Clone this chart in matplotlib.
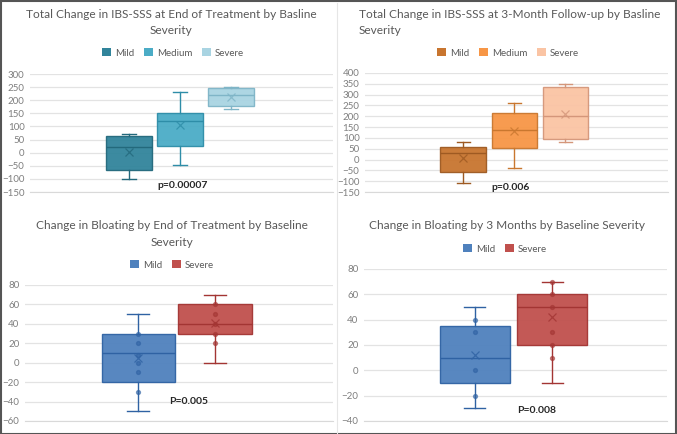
import matplotlib
matplotlib.use("Agg")
import matplotlib.pyplot as plt
from matplotlib.patches import Patch, Rectangle

plt.rcParams['font.family'] = ['Lato', 'DejaVu Sans']

W, H = 677, 434

# ---- data ----
# IBS-SSS, end of treatment
eot_names = ['Mild', 'Medium', 'Severe']
eot_lo = [-100, -48, 165]
eot_q1 = [-68, 25, 178]
eot_med = [22, 120, 220]
eot_q3 = [64, 152, 245]
eot_hi = [72, 230, 250]
eot_mean = [4, 105, 212]

# IBS-SSS, 3-month follow-up
fu_names = ['Mild', 'Medium', 'Severe']
fu_lo = [-110, -40, 80]
fu_q1 = [-58, 55, 95]
fu_med = [30, 135, 200]
fu_q3 = [58, 215, 335]
fu_hi = [80, 260, 350]
fu_mean = [5, 130, 210]

# bloating, end of treatment
bl_names = ['Mild', 'Severe']
bl_lo = [-50, 0]
bl_q1 = [-20, 30]
bl_med = [10, 40]
bl_q3 = [30, 60]
bl_hi = [50, 70]
bl_mean = [5, 41]
bl_pts = [[30, 20, 8, 0, -10, -30], [60, 50, 40, 30, 20]]

# bloating, 3 months
b3_names = ['Mild', 'Severe']
b3_lo = [-30, -10]
b3_q1 = [-10, 20]
b3_med = [10, 50]
b3_q3 = [35, 60]
b3_hi = [50, 70]
b3_mean = [12, 42]
b3_pts = [[40, 30, 0, -20], [70, 60, 50, 30, 20, 10]]

teal = ['#31849B', '#4BACC6', '#A9D4E2']
teal_dk = ['#23697C', '#2E8DA8', '#7FB5C7']
orange = ['#C8752F', '#F79646', '#FAC4A4']
orange_dk = ['#9E5A22', '#C9772F', '#D4967A']
bluered = ['#4F81BD', '#C0504D']
bluered_dk = ['#2F62A3', '#A33533']

grey_txt = '#595959'
tick_txt = '#7F7F7F'
TS = 8.6

fig = plt.figure(figsize=(W / 100, H / 100), dpi=100)


def px_axes(x0, x1, ytop, ybot):
    return fig.add_axes([x0 / W, 1 - ybot / H, (x1 - x0) / W, (ybot - ytop) / H])


def draw_panel(ax, names, lo, q1, med, q3, hi, mean, cols, dks, width, xl, ylim, step, pts=None):
    n = len(names)
    pos = [i - (n - 1) / 2 for i in range(n)]
    for i in range(n):
        st = [dict(whislo=lo[i], q1=q1[i], med=med[i], q3=q3[i], whishi=hi[i],
                   mean=mean[i], fliers=[])]
        ax.bxp(st, positions=[pos[i]], widths=width, patch_artist=True,
               showmeans=True, showcaps=True,
               boxprops=dict(facecolor=cols[i], edgecolor=dks[i], linewidth=1.0, alpha=0.95),
               medianprops=dict(color=dks[i], linewidth=1.0),
               whiskerprops=dict(color=dks[i], linewidth=1.0),
               capprops=dict(color=dks[i], linewidth=1.0),
               capwidths=width * 0.3,
               meanprops=dict(marker='x', markeredgecolor=dks[i], markersize=6,
                              markeredgewidth=0.9, alpha=0.8), zorder=3)
        if pts is not None:
            ax.plot([pos[i]] * len(pts[i]), pts[i], 'o', color=dks[i], markersize=2.8,
                    zorder=4, alpha=0.6)
    ax.set_xlim(*xl)
    ax.set_ylim(*ylim)
    ax.set_yticks(range(ylim[0], ylim[1] + 1, step))
    ax.set_xticks([])
    ax.grid(axis='y', color='#E3E3E3', linewidth=0.9)
    ax.set_axisbelow(True)
    for s in ['top', 'right', 'left']:
        ax.spines[s].set_visible(False)
    ax.spines['bottom'].set_color('#D9D9D9')
    ax.tick_params(axis='y', length=0, labelsize=7, labelcolor=tick_txt, pad=4)


def legend(x, y, names, cols):
    handles = [Patch(facecolor=c) for c in cols]
    leg = fig.legend(handles=handles, labels=names,
                     loc='center', bbox_to_anchor=(x / W, 1 - y / H), ncol=len(names),
                     frameon=False, fontsize=7, handlelength=0.9, handleheight=0.9,
                     handletextpad=0.4, columnspacing=1.0, labelcolor=grey_txt)
    return leg


# top left
ax1 = px_axes(30, 333, 74, 192)
draw_panel(ax1, eot_names, eot_lo, eot_q1, eot_med, eot_q3, eot_hi, eot_mean,
           teal, teal_dk, 0.9, (-2.94, 3.0), (-150, 300), 50)
fig.text(171 / W, 1 - 15 / H, 'Total Change in IBS-SSS at End of Treatment by Basline',
         ha='center', va='center', fontsize=TS, color=grey_txt)
fig.text(171 / W, 1 - 31 / H, 'Severity', ha='center', va='center', fontsize=TS, color=grey_txt)
legend(173, 53, eot_names, teal)
ax1.text(0.06, -127, 'p=0.00007', ha='center', va='center', fontsize=7.5,
         fontweight='bold', color='#262626')

# top right
ax2 = px_axes(365, 668, 73, 192)
draw_panel(ax2, fu_names, fu_lo, fu_q1, fu_med, fu_q3, fu_hi, fu_mean,
           orange, orange_dk, 0.9, (-2.93, 3.01), (-150, 400), 50)
fig.text(359 / W, 1 - 15 / H, 'Total Change in IBS-SSS at 3-Month Follow-up by Basline',
         ha='left', va='center', fontsize=TS, color=grey_txt)
fig.text(359 / W, 1 - 31 / H, 'Severity', ha='left', va='center', fontsize=TS, color=grey_txt)
legend(508, 53, fu_names, orange)
ax2.text(-0.08, -127, 'p=0.006', ha='center', va='center', fontsize=7.5,
         fontweight='bold', color='#262626')

# bottom left
ax3 = px_axes(25, 333, 285, 421)
draw_panel(ax3, bl_names, bl_lo, bl_q1, bl_med, bl_q3, bl_hi, bl_mean,
           bluered, bluered_dk, 0.96, (-1.98, 2.04), (-60, 80), 20, pts=bl_pts)
fig.text(172 / W, 1 - 226 / H, 'Change in Bloating by End of Treatment by Baseline',
         ha='center', va='center', fontsize=TS, color=grey_txt)
fig.text(172 / W, 1 - 242 / H, 'Severity', ha='center', va='center', fontsize=TS, color=grey_txt)
legend(172, 265, bl_names, bluered)
ax3.text(0.15, -40, 'P=0.005', ha='center', va='center', fontsize=7.5,
         fontweight='bold', color='#262626')

# bottom right
ax4 = px_axes(364, 667, 269, 421)
draw_panel(ax4, b3_names, b3_lo, b3_q1, b3_med, b3_q3, b3_hi, b3_mean,
           bluered, bluered_dk, 0.9, (-1.93, 1.98), (-40, 80), 20, pts=b3_pts)
fig.text(507 / W, 1 - 226 / H, 'Change in Bloating by 3 Months by Baseline Severity',
         ha='center', va='center', fontsize=TS, color=grey_txt)
legend(505, 249, b3_names, bluered)
ax4.text(0.3, -32, 'P=0.008', ha='center', va='center', fontsize=7.5,
         fontweight='bold', color='#262626')

# frame and divider
fig.add_artist(Rectangle((0.5 / W, 0.5 / H), (W - 1.5) / W, (H - 1.5) / H,
                         transform=fig.transFigure, fill=False, edgecolor='#555555',
                         linewidth=1.5))
fig.add_artist(plt.Line2D([337 / W, 337 / W], [0, 1 - 3 / H], transform=fig.transFigure,
                          color='#E6E6E6', linewidth=0.8))

fig.savefig('out.png', dpi=100)
